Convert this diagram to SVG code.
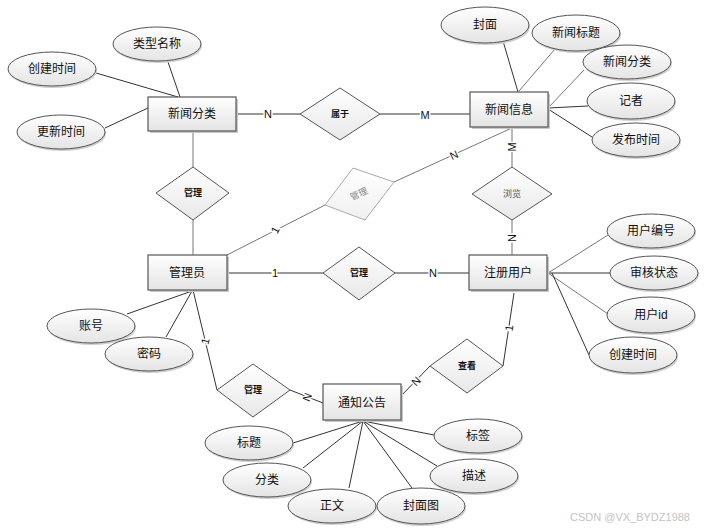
<svg xmlns="http://www.w3.org/2000/svg" width="711" height="530" viewBox="0 0 711 530">
<defs>
<linearGradient id="gf" x1="0" y1="0" x2="0" y2="1">
<stop offset="0" stop-color="#ffffff"/>
<stop offset="1" stop-color="#e4e4e4"/>
</linearGradient>
<linearGradient id="gd" x1="0" y1="0" x2="0" y2="1">
<stop offset="0" stop-color="#ffffff"/>
<stop offset="1" stop-color="#e8e8e8"/>
</linearGradient>
<linearGradient id="gl" x1="0" y1="0" x2="0" y2="1">
<stop offset="0" stop-color="#ffffff"/>
<stop offset="1" stop-color="#f0f0f0"/>
</linearGradient>
</defs>
<style>
text{font-family:"Liberation Sans","Noto Sans CJK SC",sans-serif;text-anchor:middle;dominant-baseline:central;fill:#111}
.ent rect.s{fill:#c8c8c8}
.ent rect.b{fill:url(#gf);stroke:#555;stroke-width:1.2}
.ent text{font-size:12px}
.att ellipse.s{fill:#cfcfcf}
.att ellipse.b{fill:url(#gf);stroke:#555;stroke-width:1}
.att text{font-size:12px}
.rel polygon{fill:url(#gd);stroke:#555;stroke-width:1}
.rel text{font-size:9px;font-weight:bold}
.c line,.c polyline{stroke:#333;stroke-width:1;fill:none}
.c .g{stroke:#999;stroke-width:2}
.c .lg{stroke:#777}
.lbl{font-size:11px;fill:#111;stroke:#fff;stroke-width:3;paint-order:stroke}
</style>
<rect width="711" height="530" fill="#fff"/>

<g id="connectors" class="c">
<!-- 新闻分类 attributes -->
<line x1="168" y1="62" x2="180" y2="97"/>
<line x1="96" y1="73" x2="178" y2="97"/>
<line x1="105" y1="128" x2="148" y2="108"/>
<!-- 新闻分类 - 属于 - 新闻信息 -->
<line x1="236" y1="114" x2="300" y2="114"/>
<line x1="380" y1="114" x2="470" y2="114"/>
<!-- 新闻分类 - 管理 - 管理员 -->
<line class="lg" x1="193" y1="131" x2="193" y2="167"/>
<line class="lg" x1="193" y1="220" x2="193" y2="255"/>
<!-- 新闻信息 attributes -->
<line x1="503" y1="41" x2="518" y2="92"/>
<line class="lg" x1="555" y1="49" x2="519" y2="91"/>
<line class="lg" x1="584" y1="70" x2="548" y2="108"/>
<line x1="548" y1="108" x2="588" y2="106"/>
<line x1="548" y1="109" x2="592" y2="137"/>
<!-- 新闻信息 - 浏览 - 注册用户 -->
<line class="lg" x1="512" y1="127" x2="512" y2="167"/>
<line class="lg" x1="512" y1="220" x2="512" y2="255"/>
<!-- 管理员 - 管理(grey) - 新闻信息 -->
<line class="lg" x1="227" y1="255" x2="325" y2="205"/>
<line class="lg" x1="394" y1="182" x2="514" y2="127"/>
<!-- 管理员 - 管理 - 注册用户 -->
<line class="g" x1="227" y1="273" x2="323" y2="273"/>
<line class="g" x1="395" y1="273" x2="469" y2="273"/>
<!-- 注册用户 attributes -->
<line class="lg" x1="548" y1="273" x2="608" y2="235"/>
<line class="g" x1="548" y1="273" x2="610" y2="273"/>
<line class="lg" x1="548" y1="273" x2="608" y2="314"/>
<line x1="552" y1="273" x2="589" y2="355"/>
<!-- 管理员 attributes -->
<line x1="127" y1="314" x2="192" y2="291"/>
<line x1="166" y1="337" x2="192" y2="291"/>
<!-- 管理员 - 管理 - 通知公告 -->
<line x1="193" y1="290" x2="217" y2="390"/>
<line x1="290" y1="390" x2="323" y2="403"/>
<!-- 通知公告 - 查看 - 注册用户 -->
<line x1="400" y1="397" x2="430" y2="366"/>
<line x1="503" y1="366" x2="514" y2="293"/>
<!-- 通知公告 attributes -->
<line x1="363" y1="421" x2="293" y2="443"/>
<line x1="363" y1="421" x2="303" y2="468"/>
<line x1="363" y1="421" x2="349" y2="488"/>
<line x1="363" y1="421" x2="412" y2="488"/>
<line x1="363" y1="421" x2="437" y2="466"/>
<line x1="363" y1="421" x2="434" y2="435"/>
<!-- cardinality labels -->
<text class="lbl" x="268" y="114">N</text>
<text class="lbl" x="425" y="115">M</text>
<text class="lbl" x="512" y="147" transform="rotate(-90 512 147)">M</text>
<text class="lbl" x="512" y="238" transform="rotate(-90 512 238)">N</text>
<text class="lbl" x="275" y="230" font-size="9" transform="rotate(-63 275 230)">1</text>
<text class="lbl" x="454" y="155" transform="rotate(-25 454 155)">N</text>
<text class="lbl" x="275" y="273">1</text>
<text class="lbl" x="433" y="273">N</text>
<text class="lbl" x="205" y="341" font-size="8" transform="rotate(-76 205 341)">1</text>
<text class="lbl" x="307" y="397" font-size="8" fill="#666" transform="rotate(-68 307 397)">N</text>
<text class="lbl" x="416" y="381" font-size="8" fill="#666" transform="rotate(-45 416 381)">N</text>
<text class="lbl" x="509" y="328" font-size="8" transform="rotate(-82 509 328)">1</text>
</g>

<g id="e_xwfl" class="ent"><rect class="s" x="150" y="99" width="88" height="34"/><rect class="b" x="148" y="97" width="88" height="34"/><text x="192" y="114">新闻分类</text></g>
<g id="e_xwxx" class="ent"><rect class="s" x="472" y="94" width="78" height="35"/><rect class="b" x="470" y="92" width="78" height="35"/><text x="509" y="110">新闻信息</text></g>
<g id="e_gly" class="ent"><rect class="s" x="150" y="257" width="79" height="35"/><rect class="b" x="148" y="255" width="79" height="35"/><text x="187" y="273">管理员</text></g>
<g id="e_zcyh" class="ent"><rect class="s" x="471" y="257" width="78" height="35"/><rect class="b" x="469" y="255" width="78" height="35"/><text x="508" y="273">注册用户</text></g>
<g id="e_tzgg" class="ent"><rect class="s" x="325" y="386" width="78" height="36"/><rect class="b" x="323" y="384" width="78" height="36"/><text x="362" y="403">通知公告</text></g>

<g id="r_sy" class="rel"><polygon points="340,88 380,114 340,140 300,114"/><text x="340" y="114">属于</text></g>
<g id="r_gl1" class="rel"><polygon points="193,167 229,193 193,220 156,193"/><text x="193" y="193">管理</text></g>
<g id="r_gl2" class="rel"><polygon points="353,168 394,182 365,220 325,205" style="fill:url(#gl);stroke:#aaa"/><text x="359" y="194" style="fill:#888;font-weight:normal" transform="rotate(-25 359 194)">管理</text></g>
<g id="r_ll" class="rel"><polygon points="512,167 552,194 512,220 472,194"/><text x="512" y="194" style="fill:#555;font-weight:normal">浏览</text></g>
<g id="r_gl3" class="rel"><polygon points="359,247 395,273 359,300 323,273"/><text x="359" y="273">管理</text></g>
<g id="r_gl4" class="rel"><polygon points="253,364 290,390 253,417 217,390"/><text x="253" y="390">管理</text></g>
<g id="r_ck" class="rel"><polygon points="467,339 503,366 467,393 430,366"/><text x="467" y="366">查看</text></g>

<g id="a_lxmc" class="att"><ellipse class="s" cx="158" cy="46" rx="44" ry="17"/><ellipse class="b" cx="157" cy="44" rx="44" ry="17"/><text x="157" y="44">类型名称</text></g>
<g id="a_cjsj1" class="att"><ellipse class="s" cx="53" cy="71" rx="44" ry="17"/><ellipse class="b" cx="52" cy="69" rx="44" ry="17"/><text x="52" y="69">创建时间</text></g>
<g id="a_gxsj" class="att"><ellipse class="s" cx="62" cy="134" rx="44" ry="17"/><ellipse class="b" cx="61" cy="132" rx="44" ry="17"/><text x="61" y="132">更新时间</text></g>
<g id="a_fm" class="att"><ellipse class="s" cx="486" cy="27" rx="44" ry="18"/><ellipse class="b" cx="485" cy="25" rx="44" ry="18"/><text x="485" y="25">封面</text></g>
<g id="a_xwbt" class="att"><ellipse class="s" cx="577" cy="35" rx="44" ry="18"/><ellipse class="b" cx="576" cy="33" rx="44" ry="18"/><text x="576" y="33">新闻标题</text></g>
<g id="a_xwfl" class="att"><ellipse class="s" cx="628" cy="64" rx="44" ry="17"/><ellipse class="b" cx="627" cy="62" rx="44" ry="17"/><text x="627" y="62">新闻分类</text></g>
<g id="a_jz" class="att"><ellipse class="s" cx="632" cy="103" rx="44" ry="18"/><ellipse class="b" cx="631" cy="101" rx="44" ry="18"/><text x="631" y="101">记者</text></g>
<g id="a_fbsj" class="att"><ellipse class="s" cx="637" cy="142" rx="44" ry="17"/><ellipse class="b" cx="636" cy="140" rx="44" ry="17"/><text x="636" y="140">发布时间</text></g>
<g id="a_yhbh" class="att"><ellipse class="s" cx="652" cy="233" rx="44" ry="17"/><ellipse class="b" cx="651" cy="231" rx="44" ry="17"/><text x="651" y="231">用户编号</text></g>
<g id="a_shzt" class="att"><ellipse class="s" cx="655" cy="275" rx="44" ry="17"/><ellipse class="b" cx="654" cy="273" rx="44" ry="17"/><text x="654" y="273">审核状态</text></g>
<g id="a_yhid" class="att"><ellipse class="s" cx="652" cy="317" rx="44" ry="18"/><ellipse class="b" cx="651" cy="315" rx="44" ry="18"/><text x="651" y="315">用户id</text></g>
<g id="a_cjsj2" class="att"><ellipse class="s" cx="634" cy="357" rx="44" ry="18"/><ellipse class="b" cx="633" cy="355" rx="44" ry="18"/><text x="633" y="355">创建时间</text></g>
<g id="a_zh" class="att"><ellipse class="s" cx="92" cy="328" rx="44" ry="17"/><ellipse class="b" cx="91" cy="326" rx="44" ry="17"/><text x="91" y="326">账号</text></g>
<g id="a_mm" class="att"><ellipse class="s" cx="150" cy="356" rx="44" ry="17"/><ellipse class="b" cx="149" cy="354" rx="44" ry="17"/><text x="149" y="354">密码</text></g>
<g id="a_bt" class="att"><ellipse class="s" cx="250" cy="445" rx="44" ry="17"/><ellipse class="b" cx="249" cy="443" rx="44" ry="17"/><text x="249" y="443">标题</text></g>
<g id="a_fl" class="att"><ellipse class="s" cx="268" cy="482" rx="44" ry="17"/><ellipse class="b" cx="267" cy="480" rx="44" ry="17"/><text x="267" y="480">分类</text></g>
<g id="a_zw" class="att"><ellipse class="s" cx="333" cy="508" rx="44" ry="17"/><ellipse class="b" cx="332" cy="506" rx="44" ry="17"/><text x="332" y="506">正文</text></g>
<g id="a_fmt" class="att"><ellipse class="s" cx="422" cy="508" rx="44" ry="18"/><ellipse class="b" cx="421" cy="506" rx="44" ry="18"/><text x="421" y="506">封面图</text></g>
<g id="a_bq" class="att"><ellipse class="s" cx="479" cy="438" rx="44" ry="17"/><ellipse class="b" cx="478" cy="436" rx="44" ry="17"/><text x="478" y="436">标签</text></g>
<g id="a_ms" class="att"><ellipse class="s" cx="475" cy="478" rx="44" ry="17"/><ellipse class="b" cx="474" cy="476" rx="44" ry="17"/><text x="474" y="476">描述</text></g>

<text x="630" y="517" style="font-size:11px;fill:#c4c4c4">CSDN @VX_BYDZ1988</text>
</svg>
